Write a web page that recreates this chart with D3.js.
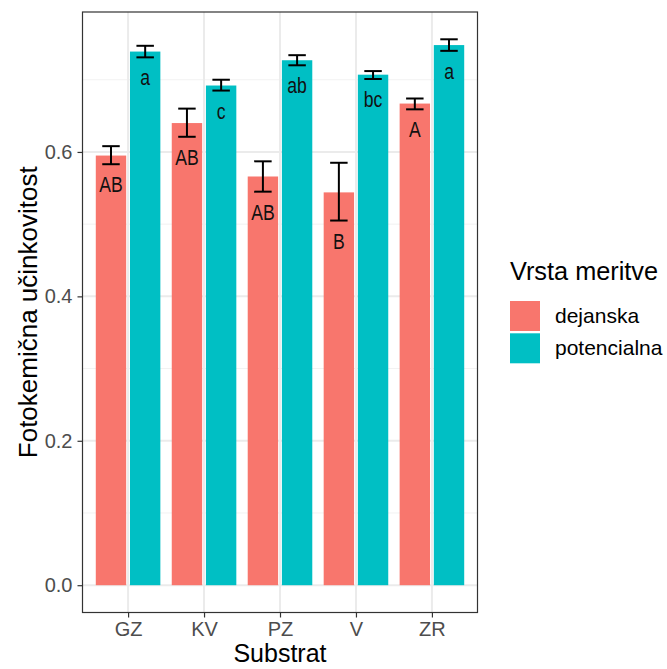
<!DOCTYPE html>
<html>
<head>
<meta charset="utf-8">
<script src="https://cdn.jsdelivr.net/npm/d3@7"></script>
<style>
  html, body { margin: 0; padding: 0; background: #fff; }
  svg text { font-family: "Liberation Sans", Arial, sans-serif; }
</style>
</head>
<body>
<svg id="chart" width="667" height="669"></svg>
<script>
// Substrates and measurement types
const categories = ["GZ", "KV", "PZ", "V", "ZR"];
const series = ["dejanska", "potencialna"];
const seriesColors = ["#F8766D", "#00BFC4"];

// Mean photochemical efficiency with lower / upper error limits
const dejanskaMean = [0.595, 0.640, 0.566, 0.544, 0.667];
const dejanskaLow  = [0.583, 0.621, 0.545, 0.505, 0.659];
const dejanskaHigh = [0.608, 0.660, 0.587, 0.585, 0.674];
const potencialnaMean = [0.739, 0.692, 0.727, 0.707, 0.748];
const potencialnaLow  = [0.731, 0.685, 0.720, 0.701, 0.740];
const potencialnaHigh = [0.747, 0.700, 0.734, 0.712, 0.756];

// Significance letters
const dejanskaLetters = ["AB", "AB", "AB", "B", "A"];
const potencialnaLetters = ["a", "c", "ab", "bc", "a"];

const yTicks = [0.0, 0.2, 0.4, 0.6];
const yMinorTicks = [0.1, 0.3, 0.5, 0.7];

const rows = [];
categories.forEach((c, i) => {
  rows.push({cat: c, s: 0, mean: dejanskaMean[i], lo: dejanskaLow[i], hi: dejanskaHigh[i], label: dejanskaLetters[i]});
  rows.push({cat: c, s: 1, mean: potencialnaMean[i], lo: potencialnaLow[i], hi: potencialnaHigh[i], label: potencialnaLetters[i]});
});

const svg = d3.select("#chart");
const panel = {left: 82.5, right: 477.5, top: 12, bottom: 612.5};

// Discrete x axis with 0.6 unit padding on each side
const unit = (panel.right - panel.left) / (categories.length - 1 + 1.2);
const x = d3.scalePoint().domain(categories)
  .range([panel.left + 0.6 * unit, panel.right - 0.6 * unit]);

const yMax = d3.max(rows, d => d.hi);
const y = d3.scaleLinear().domain([-0.05 * yMax, 1.05 * yMax]).range([panel.bottom, panel.top]);

const dodge = 0.225 * unit;   // half of the dodge width per series
const barW = 0.4 * unit;
const errW = 0.23 * unit;
const cxOf = d => x(d.cat) + (d.s === 0 ? -dodge : dodge);

// Panel background
svg.append("rect").attr("x", panel.left).attr("y", panel.top)
  .attr("width", panel.right - panel.left).attr("height", panel.bottom - panel.top)
  .attr("fill", "#fff");

// Grid
const grid = svg.append("g");
grid.selectAll(".ymin").data(yMinorTicks).join("line")
  .attr("x1", panel.left).attr("x2", panel.right)
  .attr("y1", d => y(d)).attr("y2", d => y(d))
  .attr("stroke", "#F2F2F2").attr("stroke-width", 1);
grid.selectAll(".ymaj").data(yTicks).join("line")
  .attr("x1", panel.left).attr("x2", panel.right)
  .attr("y1", d => y(d)).attr("y2", d => y(d))
  .attr("stroke", "#EBEBEB").attr("stroke-width", 2);
grid.selectAll(".xmaj").data(categories).join("line")
  .attr("x1", d => x(d)).attr("x2", d => x(d))
  .attr("y1", panel.top).attr("y2", panel.bottom)
  .attr("stroke", "#EBEBEB").attr("stroke-width", 2);

// Bars
svg.append("g").selectAll("rect").data(rows).join("rect")
  .attr("x", d => cxOf(d) - barW / 2)
  .attr("width", barW)
  .attr("y", d => y(d.mean))
  .attr("height", d => y(0) - y(d.mean))
  .attr("fill", d => seriesColors[d.s]);

// Error bars
const eb = svg.append("g").attr("stroke", "#000").attr("stroke-width", 2).attr("fill", "none");
rows.forEach(d => {
  const cx = cxOf(d);
  eb.append("line").attr("x1", cx).attr("x2", cx).attr("y1", y(d.lo)).attr("y2", y(d.hi));
  eb.append("line").attr("x1", cx - errW / 2).attr("x2", cx + errW / 2).attr("y1", y(d.lo)).attr("y2", y(d.lo));
  eb.append("line").attr("x1", cx - errW / 2).attr("x2", cx + errW / 2).attr("y1", y(d.hi)).attr("y2", y(d.hi));
});

// Significance letters below the lower error limit (condensed face)
svg.append("g").selectAll("text").data(rows).join("text")
  .attr("transform", d => `translate(${cxOf(d)},${y(d.lo) + 28}) scale(0.8,1)`)
  .attr("text-anchor", "middle")
  .style("font-size", "22px")
  .attr("fill", "#111")
  .text(d => d.label);

// Panel border
svg.append("rect").attr("x", panel.left).attr("y", panel.top)
  .attr("width", panel.right - panel.left).attr("height", panel.bottom - panel.top)
  .attr("fill", "none").attr("stroke", "#333333").attr("stroke-width", 1.2);

// Y axis
const yAxis = d3.axisLeft(y).tickValues(yTicks).tickFormat(d3.format(".1f")).tickSize(5).tickPadding(5);
const ya = svg.append("g").attr("transform", `translate(${panel.left},0)`).call(yAxis);
ya.select(".domain").remove();
ya.selectAll(".tick line").attr("stroke", "#333333").attr("stroke-width", 1.2);
ya.selectAll(".tick text").attr("fill", "#4D4D4D").style("font-size", "20px")
  .style("font-family", "'Liberation Sans', Arial, sans-serif");

// X axis
const xAxis = d3.axisBottom(x).tickSize(5).tickPadding(4);
const xa = svg.append("g").attr("transform", `translate(0,${panel.bottom})`).call(xAxis);
xa.select(".domain").remove();
xa.selectAll(".tick line").attr("stroke", "#333333").attr("stroke-width", 1.2);
xa.selectAll(".tick text").attr("fill", "#4D4D4D").style("font-size", "20px")
  .style("font-family", "'Liberation Sans', Arial, sans-serif");

// Axis titles
svg.append("text").attr("x", (panel.left + panel.right) / 2).attr("y", 662)
  .attr("text-anchor", "middle").style("font-size", "25px").attr("fill", "#000")
  .text("Substrat");
svg.append("text")
  .attr("transform", `translate(37,${(panel.top + panel.bottom) / 2}) rotate(-90)`)
  .attr("text-anchor", "middle").style("font-size", "26px").attr("fill", "#000")
  .text("Fotokemična učinkovitost");

// Legend
const lg = svg.append("g").attr("transform", "translate(510,0)");
lg.append("text").attr("x", 0).attr("y", 280).style("font-size", "25.3px").attr("fill", "#000")
  .text("Vrsta meritve");
series.forEach((s, i) => {
  lg.append("rect").attr("x", 0).attr("y", 301 + i * 32.3).attr("width", 30).attr("height", 30)
    .attr("fill", seriesColors[i]);
  lg.append("text").attr("x", 45).attr("y", 323 + i * 32.3).style("font-size", "21px").attr("fill", "#000")
    .text(s);
});
</script>
</body>
</html>
